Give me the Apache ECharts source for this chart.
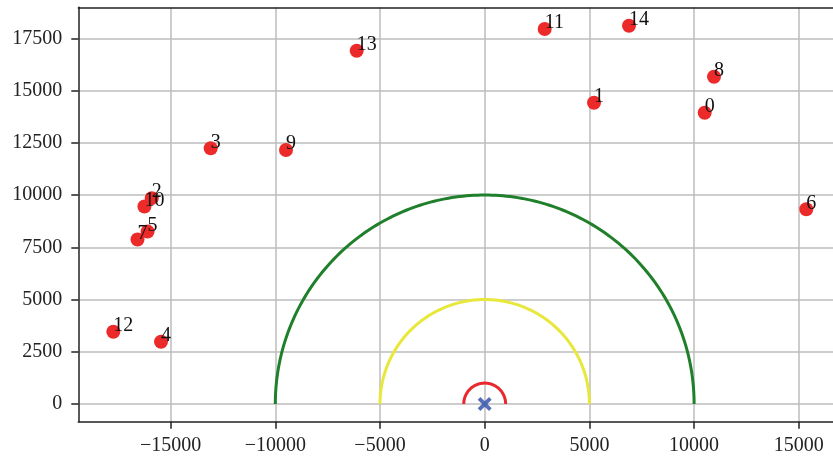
<!DOCTYPE html>
<html>
<head>
<meta charset="utf-8">
<script src="https://cdn.jsdelivr.net/npm/echarts@6/dist/echarts.min.js"></script>
<style>
  html, body { margin: 0; padding: 0; background: #fff; }
  #chart { width: 833px; height: 459px; }
</style>
</head>
<body>
<div id="chart"></div>
<script>
// Point ids and their x/y positions
const pointIds = [0, 1, 2, 3, 4, 5, 6, 7, 8, 9, 10, 11, 12, 13, 14];
const pointX = [10506, 5220, -15900, -13085, -15458, -16100, 15358, -16581, 10950, -9489, -16250, 2865, -17735, -6113, 6891];
const pointY = [13940, 14419, 9850, 12236, 2981, 8250, 9317, 7872, 15663, 12155, 9450, 17945, 3460, 16907, 18104];

// Range rings around the origin
const ringRadii = [1000, 5000, 10000];
const ringColors = ['#e8282c', '#e8e83c', '#1f7f2a'];

// Origin marker
const origin = [[0, 0]];

// Tick values
const xTicks = [-15000, -10000, -5000, 0, 5000, 10000, 15000];
const yTicks = [0, 2500, 5000, 7500, 10000, 12500, 15000, 17500];

// Visible axis window (the plot runs off the right edge of the canvas)
const xRange = [-19408, 16633];
const yRange = [-847, 18984];

const FONT = 'Liberation Serif';
const fmt = v => (v < 0 ? '\u2212' + (-v) : String(v));

const chart = echarts.init(document.getElementById('chart'), null, { renderer: 'canvas' });

const scatterData = pointIds.map((id, i) => [pointX[i], pointY[i], id]);

chart.setOption({
  animation: false,
  backgroundColor: '#fff',
  grid: { left: 78.3, top: 7.3, bottom: 37.3, right: 0 },
  xAxis: [
    {
      type: 'value',
      position: 'bottom',
      min: xRange[0], max: xRange[1],
      axisLine: { show: true, onZero: false, lineStyle: { color: '#222', width: 1.5 } },
      axisTick: { show: true, inside: false, length: 7, customValues: xTicks, lineStyle: { color: '#222', width: 1.5 } },
      axisLabel: { customValues: xTicks, formatter: fmt, fontFamily: FONT, fontSize: 20, color: '#222', margin: 14 },
      splitLine: { show: true, lineStyle: { color: '#bdbdbd', width: 1.5 } }
    },
    {
      // top spine only
      type: 'value',
      position: 'top',
      min: xRange[0], max: xRange[1],
      axisLine: { show: true, onZero: false, lineStyle: { color: '#222', width: 1.5 } },
      axisTick: { show: false },
      axisLabel: { show: false },
      splitLine: { show: false }
    }
  ],
  yAxis: {
    type: 'value',
    min: yRange[0], max: yRange[1],
    axisLine: { show: true, onZero: false, lineStyle: { color: '#222', width: 1.5 } },
    axisTick: { show: true, inside: false, length: 7, customValues: yTicks, lineStyle: { color: '#222', width: 1.5 } },
    axisLabel: { customValues: yTicks, formatter: fmt, fontFamily: FONT, fontSize: 20, color: '#222', margin: 16 },
    splitLine: { show: true, lineStyle: { color: '#bdbdbd', width: 1.5 } }
  },
  series: [
    {
      type: 'custom',
      data: ringRadii.map(r => [r, 0]),
      encode: { x: 0, y: 1 },
      z: 3,
      renderItem(params, api) {
        const r = api.value(0);
        const pts = [];
        for (let k = 0; k <= 180; k++) {
          const t = Math.PI * k / 180;
          pts.push(api.coord([r * Math.cos(t), r * Math.sin(t)]));
        }
        return {
          type: 'polyline',
          shape: { points: pts },
          style: { stroke: ringColors[params.dataIndex], lineWidth: 3, fill: null }
        };
      }
    },
    {
      type: 'scatter',
      data: origin,
      symbol: 'path://M2.3,0L6,3.7L9.7,0L12,2.3L8.3,6L12,9.7L9.7,12L6,8.3L2.3,12L0,9.7L3.7,6L0,2.3Z',
      symbolSize: 14,
      itemStyle: { color: '#2b4aa8' },
      z: 4
    },
    {
      type: 'scatter',
      data: scatterData,
      symbol: 'circle',
      symbolSize: 14,
      itemStyle: { color: '#ec2a2a', opacity: 1 },
      z: 5,
      label: {
        show: true,
        position: [7, 7],
        offset: [0, 4],
        align: 'left',
        verticalAlign: 'bottom',
        fontFamily: FONT,
        fontSize: 20,
        color: '#111',
        formatter: p => String(p.value[2])
      }
    }
  ]
});
</script>
</body>
</html>
